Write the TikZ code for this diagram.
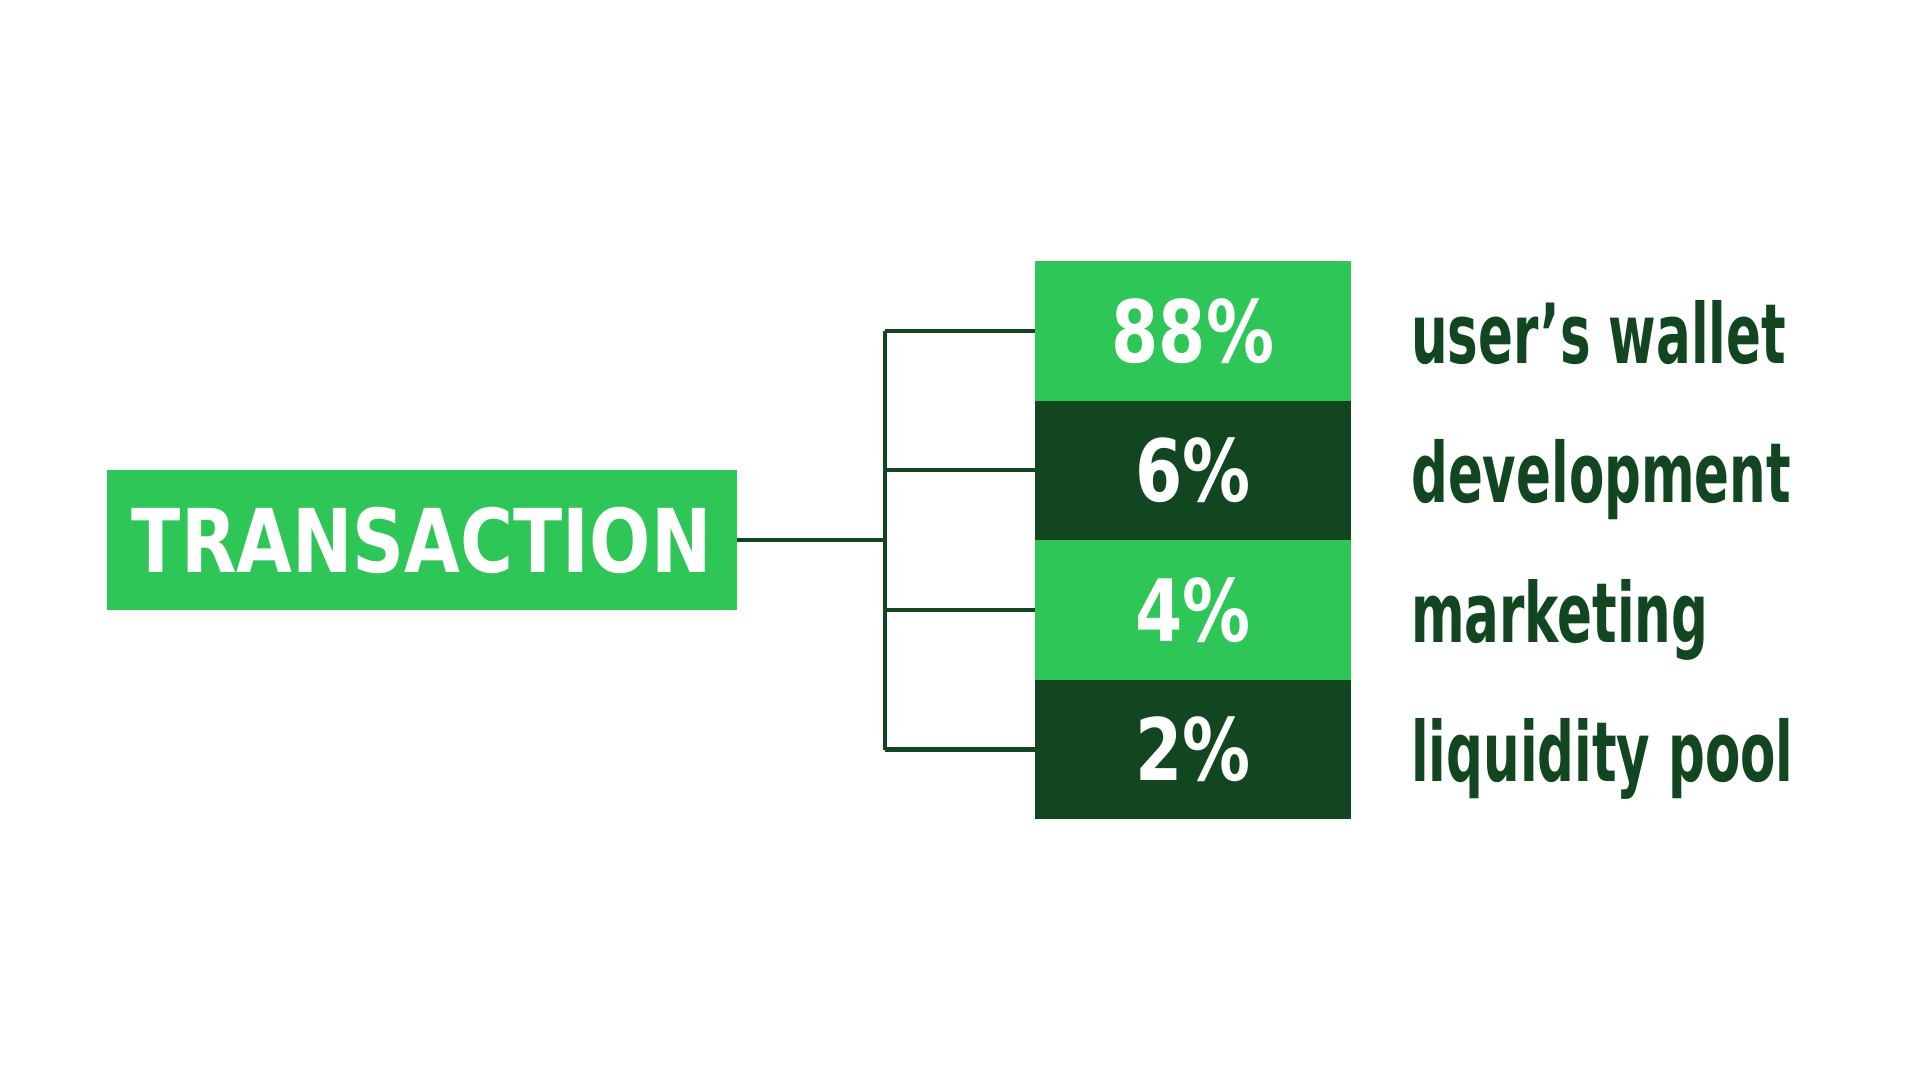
\documentclass[tikz,border=0pt]{standalone}
\usepackage{fontspec}
\newfontfamily\headfont[FakeStretch=0.82]{DejaVu Sans}
\newfontfamily\pctfont[FakeStretch=0.79]{DejaVu Sans}
\newfontfamily\labfont[FakeStretch=0.62]{DejaVu Sans}
\definecolor{lightg}{HTML}{2EC656}
\definecolor{darkg}{HTML}{124620}
\begin{document}
\begin{tikzpicture}[x=1pt,y=-1pt,
  txbox/.style={fill=lightg, draw=none, minimum width=630.5pt, minimum height=140pt, inner sep=0pt,
    text=white, font=\headfont\bfseries\fontsize{88}{88}\selectfont},
  rowbox/.style={draw=none, minimum width=316pt, minimum height=139.6pt, inner sep=0pt,
    text=white, font=\pctfont\bfseries\fontsize{86}{86}\selectfont},
  lab/.style={anchor=base west, inner sep=0pt, text=darkg, font=\labfont\bfseries\fontsize{83}{83}\selectfont},
  conn/.style={draw=darkg, line width=4.2pt}]
\fill[white] (0,0) rectangle (1920,1080);
\useasboundingbox (0,0) rectangle (1920,1080);

\node[txbox] (tx) at (421.75,540) {TRANSACTION};

\node[rowbox, fill=lightg] (r1) at (1193,330.7) {88\%};
\node[rowbox, fill=darkg]  (r2) at (1193,470.3) {6\%};
\node[rowbox, fill=lightg] (r3) at (1193,609.9) {4\%};
\node[rowbox, fill=darkg]  (r4) at (1193,749.5) {2\%};

\node[lab] (l1) at (1411,363) {user’s wallet};
\node[lab] (l2) at (1411,502.5) {development};
\node[lab] (l3) at (1411,642.3) {marketing};
\node[lab] (l4) at (1411,781.7) {liquidity pool};

\coordinate (j) at (885,540);
\draw[conn] (tx.east) -- (j);
\draw[conn] (j |- r1) -- (j |- r4);
\draw[conn] (j |- r1) -- (r1.west);
\draw[conn] (j |- r2) -- (r2.west);
\draw[conn] (j |- r3) -- (r3.west);
\draw[conn] (j |- r4) -- (r4.west);
\end{tikzpicture}
\end{document}
